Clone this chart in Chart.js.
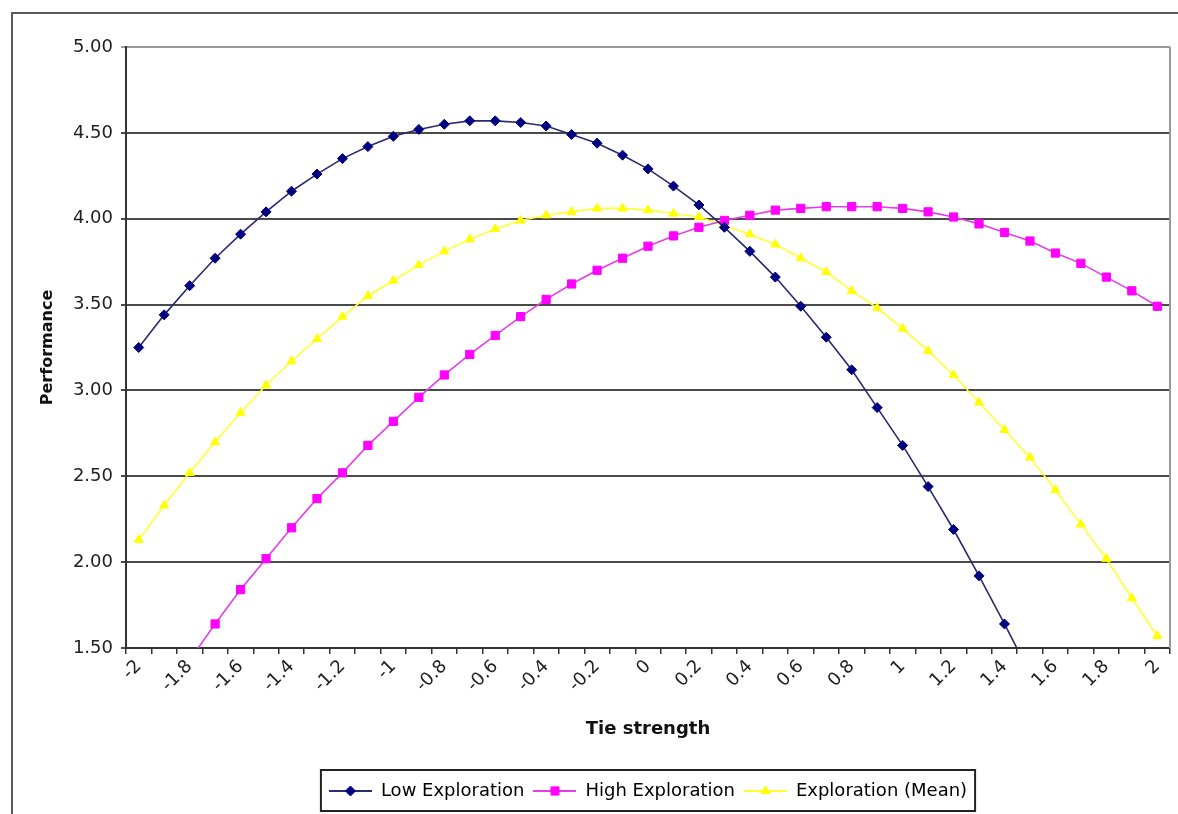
<!DOCTYPE html>
<html>
<head>
<meta charset="utf-8">
<script src="https://cdn.jsdelivr.net/npm/chart.js@4.4.1/dist/chart.umd.min.js"></script>
<style>
  body { margin: 0; background: #fff; }
  canvas { display: block; }
</style>
</head>
<body>
<canvas id="chart" width="1178" height="814"></canvas>
<script>
// tie strength categories, -2 .. 2 in steps of 0.1
var categories = [
  "-2", "-1.9", "-1.8", "-1.7", "-1.6", "-1.5", "-1.4", "-1.3", "-1.2", "-1.1",
  "-1", "-0.9", "-0.8", "-0.7", "-0.6", "-0.5", "-0.4", "-0.3", "-0.2", "-0.1",
  "0", "0.1", "0.2", "0.3", "0.4", "0.5", "0.6", "0.7", "0.8", "0.9",
  "1", "1.1", "1.2", "1.3", "1.4", "1.5", "1.6", "1.7", "1.8", "1.9", "2"
];

var lowExploration = [
  3.25, 3.44, 3.61, 3.77, 3.91, 4.04, 4.16, 4.26, 4.35, 4.42,
  4.48, 4.52, 4.55, 4.57, 4.57, 4.56, 4.54, 4.49, 4.44, 4.37,
  4.29, 4.19, 4.08, 3.95, 3.81, 3.66, 3.49, 3.31, 3.12, 2.90,
  2.68, 2.44, 2.19, 1.92, 1.64, 1.35, null, null, null, null, null
];

var highExploration = [
  null, null, 1.43, 1.64, 1.84, 2.02, 2.20, 2.37, 2.52, 2.68,
  2.82, 2.96, 3.09, 3.21, 3.32, 3.43, 3.53, 3.62, 3.70, 3.77,
  3.84, 3.90, 3.95, 3.99, 4.02, 4.05, 4.06, 4.07, 4.07, 4.07,
  4.06, 4.04, 4.01, 3.97, 3.92, 3.87, 3.80, 3.74, 3.66, 3.58, 3.49
];

var meanExploration = [
  2.13, 2.33, 2.52, 2.70, 2.87, 3.03, 3.17, 3.30, 3.43, 3.55,
  3.64, 3.73, 3.81, 3.88, 3.94, 3.99, 4.02, 4.04, 4.06, 4.06,
  4.05, 4.03, 4.01, 3.96, 3.91, 3.85, 3.77, 3.69, 3.58, 3.48,
  3.36, 3.23, 3.09, 2.93, 2.77, 2.61, 2.42, 2.22, 2.02, 1.79, 1.57
];

var seriesNames = ["Low Exploration", "High Exploration", "Exploration (Mean)"];
var seriesColors = ["#000080", "#ff00ff", "#ffff00"];
var lineColors = ["#2a2a70", "#e63ee6", "#ffff33"];
var markers = ["rectRot", "rect", "triangle"];
var markerSizes = [5, 5.8, 5.2];

var yTicks = [1.5, 2, 2.5, 3, 3.5, 4, 4.5, 5];

Chart.defaults.font.family = "'DejaVu Sans', sans-serif";
Chart.defaults.font.size = 18;
Chart.defaults.color = "#222";

// small picture for the legend: line with the marker in the middle
function legendSample(i) {
  var c = document.createElement("canvas");
  c.width = 43;
  c.height = 18;
  var g = c.getContext("2d");
  g.strokeStyle = lineColors[i];
  g.lineWidth = 2;
  g.beginPath();
  g.moveTo(0, 9);
  g.lineTo(43, 9);
  g.stroke();
  g.fillStyle = seriesColors[i];
  g.strokeStyle = seriesColors[i];
  g.lineWidth = 1;
  Chart.helpers.drawPoint(g, { pointStyle: markers[i], radius: markerSizes[i], borderWidth: 1 }, 21.5, 9);
  return c;
}

var frame = {
  id: "frame",
  beforeDraw: function (chart) {
    var ctx = chart.ctx;
    ctx.save();
    ctx.fillStyle = "#fff";
    ctx.fillRect(0, 0, chart.width, chart.height);
    ctx.strokeStyle = "#5a5a5a";
    ctx.lineWidth = 2;
    ctx.strokeRect(12, 13, 1400, 1000);
    ctx.restore();
  },
  beforeDatasetsDraw: function (chart) {
    var a = chart.chartArea;
    var ctx = chart.ctx;
    ctx.save();
    ctx.strokeStyle = "#9a9a9a";
    ctx.lineWidth = 2;
    ctx.beginPath();
    ctx.moveTo(a.right, a.top);
    ctx.lineTo(a.right, a.bottom);
    ctx.stroke();
    ctx.restore();
  },
  afterDraw: function (chart) {
    var boxes = chart.legend.legendHitBoxes;
    if (!boxes || !boxes.length) return;
    var last = boxes[boxes.length - 1];
    var ctx = chart.ctx;
    ctx.save();
    ctx.strokeStyle = "#222";
    ctx.lineWidth = 2;
    var l = boxes[0].left - 8;
    var r = last.left + last.width + 8;
    ctx.strokeRect(l, chart.legend.top - 3, r - l, chart.legend.height + 4);
    ctx.restore();
  }
};

var datasets = [lowExploration, highExploration, meanExploration].map(function (values, i) {
  return {
    label: seriesNames[i],
    data: values,
    borderColor: lineColors[i],
    backgroundColor: seriesColors[i],
    pointBackgroundColor: seriesColors[i],
    pointBorderColor: seriesColors[i],
    borderWidth: 1.6,
    pointStyle: markers[i],
    pointRadius: markerSizes[i],
    pointBorderWidth: 1,
    tension: 0,
    clip: 0
  };
});

new Chart(document.getElementById("chart"), {
  type: "line",
  data: { labels: categories, datasets: datasets },
  plugins: [frame],
  options: {
    responsive: false,
    animation: false,
    layout: { padding: { left: 0, top: 47, right: 8, bottom: 4 } },
    plugins: {
      tooltip: { enabled: false },
      legend: {
        position: "bottom",
        fullSize: false,
        labels: {
          usePointStyle: true,
          pointStyleWidth: 43,
          padding: 9,
          color: "#222",
          font: { size: 18 },
          generateLabels: function (chart) {
            return seriesNames.map(function (name, i) {
              return {
                text: name,
                pointStyle: legendSample(i),
                datasetIndex: i,
                hidden: false,
                lineWidth: 0,
                fillStyle: seriesColors[i],
                strokeStyle: seriesColors[i]
              };
            });
          }
        }
      }
    },
    scales: {
      x: {
        type: "category",
        offset: true,
        afterFit: function (scale) { scale.height = 125; },
        grid: {
          drawOnChartArea: false,
          drawTicks: true,
          tickLength: 6,
          color: "#333",
          lineWidth: 1.5,
          offset: true
        },
        border: { color: "#333", width: 2 },
        ticks: {
          autoSkip: false,
          minRotation: 45,
          maxRotation: 45,
          padding: 2,
          color: "#222",
          callback: function (val, idx) {
            return idx % 2 === 0 ? categories[idx] : "";
          }
        },
        title: {
          display: true,
          text: "Tie strength",
          color: "#111",
          font: { size: 18, weight: "bold" },
          padding: { top: 0, bottom: 33 }
        }
      },
      y: {
        min: yTicks[0],
        max: yTicks[yTicks.length - 1],
        afterFit: function (scale) { scale.width = 126; },
        afterBuildTicks: function (scale) {
          scale.ticks = yTicks.map(function (v) { return { value: v }; });
        },
        grid: {
          color: function (c) { return c.tick && c.tick.value === 5 ? "#9a9a9a" : "#4a4a4a"; },
          lineWidth: 2,
          tickLength: 5
        },
        border: { color: "#333", width: 2 },
        ticks: {
          padding: 8,
          color: "#222",
          callback: function (v) { return Number(v).toFixed(2); }
        },
        title: {
          display: true,
          text: "Performance",
          color: "#111",
          font: { size: 16, weight: "bold" },
          padding: { top: 38, bottom: 0 }
        }
      }
    }
  }
});
</script>
</body>
</html>
